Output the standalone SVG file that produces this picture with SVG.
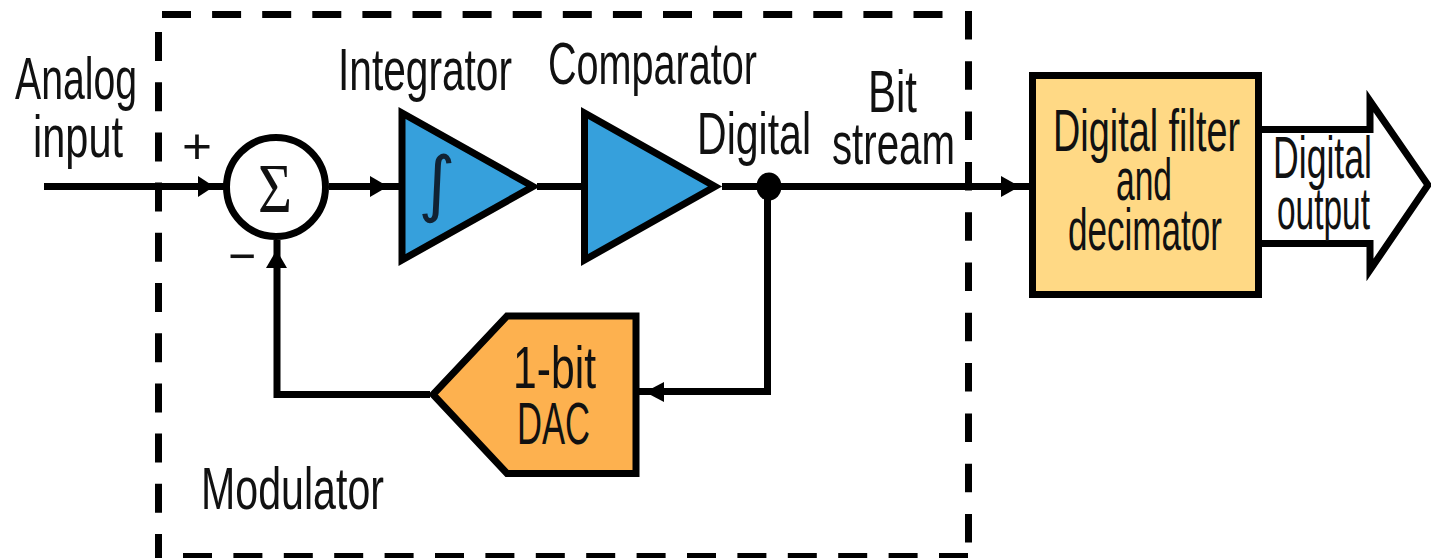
<svg xmlns="http://www.w3.org/2000/svg" width="1431" height="558" viewBox="0 0 1431 558">
<style>
text{font-family:"Liberation Sans",Arial,sans-serif;font-size:60px;fill:#111}
.s{fill:none;stroke:#000;stroke-width:7}
.d{fill:none;stroke:#000;stroke-width:7}
.n{stroke:#000;stroke-width:7;stroke-linejoin:miter}
.h{fill:#000;stroke:none}
.m{font-family:"Liberation Serif",serif}
</style>
<rect width="1431" height="558" fill="#fff"/>
<g id="modulator-boundary">
<path class="d" stroke-dasharray="29 21.1" d="M162 14.500H944"/>
<path class="d" stroke-dasharray="29 21.4" d="M183 556.500H969"/>
<path class="d" stroke-dasharray="29 21.2" d="M158.500 32V558"/>
<path class="d" stroke-dasharray="28.500 21.800" d="M968.500 11V546"/>
<text x="201" y="509" textLength="183" lengthAdjust="spacingAndGlyphs">Modulator</text>
</g>
<g id="connectors">
<path class="s" d="M44 186.500H224M329 186.500H400M537 186.500H584M722 186.500H1029"/>
<path class="s" d="M767.500 186V391.500H639"/>
<path class="s" d="M430 394.500H277V240"/>
<path class="h" d="M198 176L214 186.500L198 197Z"/>
<path class="h" d="M370 176L388 186.500L370 197Z"/>
<path class="h" d="M1001 176L1020 186.500L1001 197Z"/>
<path class="h" d="M266 268L276.500 250L287 268Z"/>
<path class="h" d="M664 382L645 392L664 402Z"/>
</g>
<g id="labels">
<text x="15" y="99" textLength="122" lengthAdjust="spacingAndGlyphs">Analog</text>
<text x="33" y="157" textLength="90" lengthAdjust="spacingAndGlyphs">input</text>
<text x="338" y="90" textLength="174" lengthAdjust="spacingAndGlyphs">Integrator</text>
<text x="548" y="84" textLength="209" lengthAdjust="spacingAndGlyphs">Comparator</text>
<text x="697" y="154" textLength="114" lengthAdjust="spacingAndGlyphs">Digital</text>
<text x="868" y="112" textLength="49" lengthAdjust="spacingAndGlyphs">Bit</text>
<text x="832" y="164" textLength="123" lengthAdjust="spacingAndGlyphs">stream</text>
<text x="182" y="163" style="font-size:50px" textLength="30" lengthAdjust="spacingAndGlyphs">+</text>
<text x="228" y="273" style="font-size:50px" textLength="28" lengthAdjust="spacingAndGlyphs">−</text>
</g>
<g id="summer">
<circle class="s" cx="276" cy="187" r="49.500" style="fill:#fff"/>
<text class="m" x="258" y="212" style="font-size:70px" textLength="34" lengthAdjust="spacingAndGlyphs">Σ</text>
</g>
<g id="integrator">
<path class="n" fill="#36a0dc" d="M402 113V260L533 186.500Z"/>
<text x="418" y="208" style="font-size:72px;fill:#123;font-family:'DejaVu Sans',sans-serif">∫</text>
</g>
<g id="comparator">
<path class="n" fill="#36a0dc" d="M584.500 113V260L715 186.500Z"/>
</g>
<ellipse id="junction" cx="769" cy="186.500" rx="12.500" ry="14"/>
<g id="dac">
<path class="n" fill="#fdb14f" d="M636 316V473.500H507L433 394.500L507 316Z"/>
<text x="513" y="388" textLength="83" lengthAdjust="spacingAndGlyphs">1-bit</text>
<text x="517" y="444" textLength="73" lengthAdjust="spacingAndGlyphs">DAC</text>
</g>
<g id="filter">
<rect class="n" x="1032.500" y="75.500" width="226" height="219" fill="#ffd985"/>
<text x="1053" y="151" textLength="187" lengthAdjust="spacingAndGlyphs">Digital filter</text>
<text x="1116" y="200" textLength="56" lengthAdjust="spacingAndGlyphs">and</text>
<text x="1068" y="250" textLength="154" lengthAdjust="spacingAndGlyphs">decimator</text>
</g>
<g id="output">
<path class="s" d="M1262 129.500H1370V101L1428 185L1370 270V243.500H1262"/>
<text x="1273" y="178" textLength="99" lengthAdjust="spacingAndGlyphs">Digital</text>
<text x="1277" y="229" textLength="93" lengthAdjust="spacingAndGlyphs">output</text>
</g>
</svg>
